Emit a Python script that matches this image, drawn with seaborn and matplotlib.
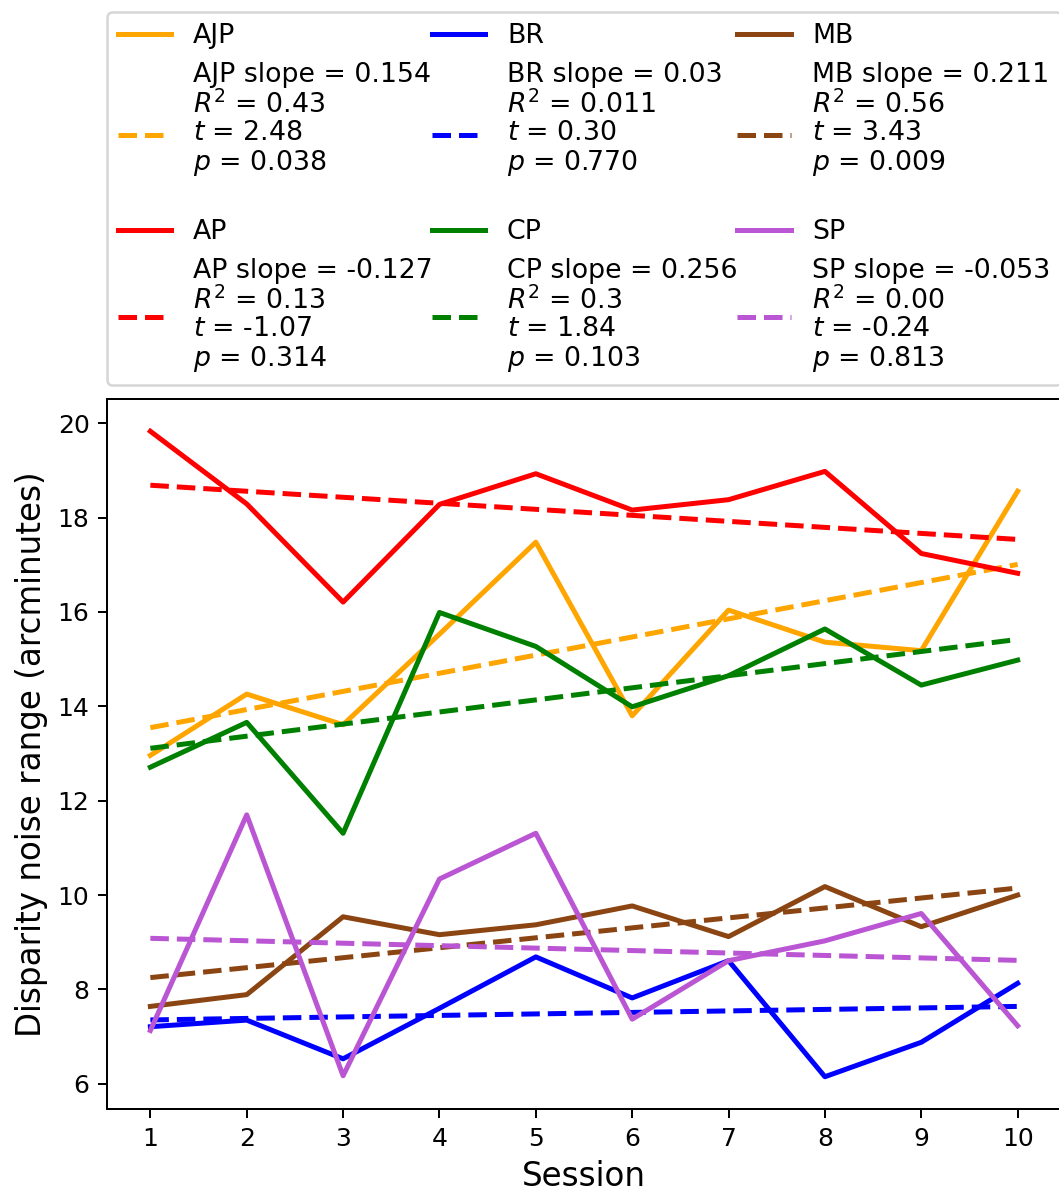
import numpy as np
import seaborn as sns
import matplotlib.pyplot as plt

sessions = np.arange(1, 11)

subjects = ['AJP', 'AP', 'BR', 'CP', 'MB', 'SP']
colors = ['orange', 'red', 'blue', 'green', 'saddlebrown', 'mediumorchid']

# disparity noise range per session (arcminutes)
ajp = [12.96, 14.26, 13.61, 15.53, 17.48, 13.80, 16.04, 15.36, 15.18, 18.56]
ap = [19.83, 18.29, 16.21, 18.28, 18.93, 18.16, 18.38, 18.98, 17.24, 16.82]
br = [7.21, 7.35, 6.53, 7.60, 8.69, 7.82, 8.61, 6.15, 6.88, 8.13]
cp = [12.71, 13.66, 11.31, 15.99, 15.27, 13.99, 14.65, 15.64, 14.45, 14.98]
mb = [7.64, 7.89, 9.54, 9.16, 9.37, 9.77, 9.12, 10.18, 9.33, 10.00]
sp = [7.13, 11.70, 6.17, 10.34, 11.31, 7.37, 8.61, 9.03, 9.61, 7.23]

# stats shown in the legend
slope_txt = ['0.154', '-0.127', '0.03', '0.256', '0.211', '-0.053']
r2_txt = ['0.43', '0.13', '0.011', '0.3', '0.56', '0.00']
t_txt = ['2.48', '-1.07', '0.30', '1.84', '3.43', '-0.24']
p_txt = ['0.038', '0.314', '0.770', '0.103', '0.009', '0.813']

data = [ajp, ap, br, cp, mb, sp]

fig = plt.figure(figsize=(1059 / 180, 1192 / 180), dpi=180)
ax = fig.add_axes([107 / 1059, 83 / 1192, 954 / 1059, 710 / 1192])

for i, (name, vals, col) in enumerate(zip(subjects, data, colors)):
    sns.lineplot(x=sessions, y=vals, color=col, lw=2, label=name, ax=ax)
    lab = (f'{name} slope = {slope_txt[i]}\n$R^2$ = {r2_txt[i]}\n'
           f'$t$ = {t_txt[i]}\n$p$ = {p_txt[i]}')
    if i % 2 == 0:  # top legend row gets an empty line below it
        lab += '\n'
    sns.regplot(x=sessions, y=np.array(vals), scatter=False, ci=None, color=col,
                line_kws=dict(lw=2, ls='--'), label=lab, ax=ax)

ax.set_xticks(sessions)
ax.set_xlabel('Session', fontsize=13)
ax.set_ylabel('Disparity noise range (arcminutes)', fontsize=13)
leg = ax.legend(loc='lower left', bbox_to_anchor=(0, 1.02, 1, 0.2), ncol=3,
                mode='expand', borderaxespad=0, fontsize=10.7)
for txt in leg.get_texts():
    txt.set_linespacing(1.08)

fig.savefig('out.png', dpi=180)
